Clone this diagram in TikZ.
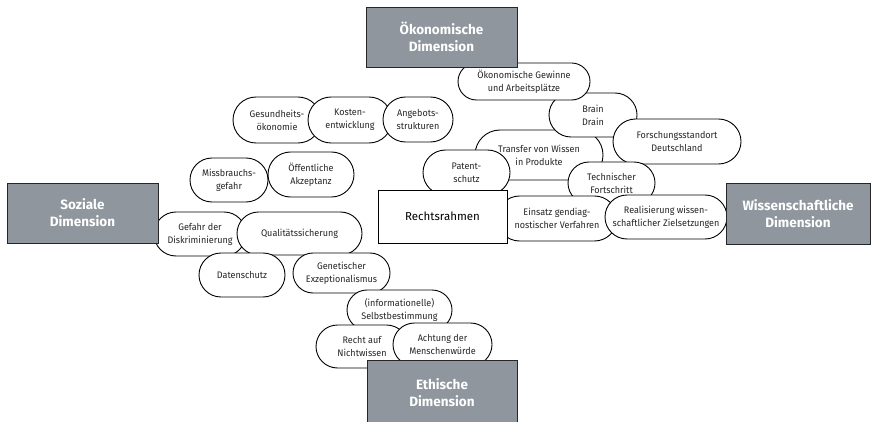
\documentclass[tikz,border=0pt]{standalone}
\usepackage{fontspec}
\setmainfont{Fira Sans}
\newfontfamily\pillfont{Fira Sans}[FakeStretch=0.95]
\usetikzlibrary{shapes.misc}
\definecolor{boxgray}{HTML}{8F969D}
\tikzset{
  pill/.style={rounded rectangle, draw=black, line width=0.9pt, fill=white, inner sep=0pt,
    align=center, font=\pillfont\fontsize{9.5}{13}\selectfont, text=black!85},
  dimbox/.style={rectangle, draw=black!85, line width=0.9pt, fill=boxgray, inner sep=0pt,
    align=center, text=white, font=\bfseries\fontsize{13.5}{17}\selectfont},
  lawbox/.style={rectangle, draw=black, line width=0.9pt, fill=white, inner sep=0pt,
    align=center, font=\fontsize{11.5}{14}\selectfont},
}
\begin{document}
\begin{tikzpicture}[x=1pt,y=-1pt]
\useasboundingbox[fill=white] (0,0) rectangle (872,422);
% upper right cluster
\node[pill, minimum width=128pt, minimum height=50pt] (transfer) at (539,155) {Transfer von Wissen\\in Produkte};
\node[pill, minimum width=88pt, minimum height=44pt] (brain) at (593,115) {Brain\\Drain};
\node[pill, minimum width=132pt, minimum height=37pt] (okgew) at (524,81.5) {Ökonomische Gewinne\\und Arbeitsplätze};
\node[pill, minimum width=128pt, minimum height=45pt] (forsch) at (677,141.5) {Forschungsstandort\\Deutschland};
\node[pill, minimum width=87pt, minimum height=42pt] (techn) at (611.5,183) {Technischer\\Fortschritt};
\node[pill, minimum width=87pt, minimum height=45pt] (patent) at (466.5,172.5) {Patent-\\schutz};
\node[pill, minimum width=120pt, minimum height=45pt] (einsatz) at (557,218.5) {Einsatz gendiag-\\nostischer Verfahren};
\node[pill, minimum width=122pt, minimum height=44pt] (realis) at (666,217) {Realisierung wissen-\\schaftlicher Zielsetzungen};
\node[lawbox, minimum width=129pt, minimum height=53pt] (recht) at (442.5,216.5) {Rechtsrahmen};
% upper left cluster
\node[pill, minimum width=88pt, minimum height=46pt] (gesund) at (277,120) {Gesundheits-\\ökonomie};
\node[pill, minimum width=84pt, minimum height=46pt] (kosten) at (350,120) {Kosten-\\entwicklung};
\node[pill, minimum width=70pt, minimum height=45pt] (angebot) at (418,119.5) {Angebots-\\strukturen};
\node[pill, minimum width=78pt, minimum height=44pt] (missbr) at (229,180) {Missbrauchs-\\gefahr};
\node[pill, minimum width=86pt, minimum height=45pt] (oeffentl) at (311,174.5) {Öffentliche\\Akzeptanz};
% lower left cluster
\node[pill, minimum width=92pt, minimum height=44pt] (gefahr) at (200,234) {Gefahr der\\Diskriminierung};
\node[pill, minimum width=125pt, minimum height=43pt] (qualit) at (299.5,233.5) {Qualitätssicherung};
\node[pill, minimum width=86pt, minimum height=44pt] (daten) at (242,275) {Datenschutz};
\node[pill, minimum width=97pt, minimum height=40pt] (genet) at (341.5,273) {Genetischer\\Exzeptionalismus};
\node[pill, minimum width=105pt, minimum height=40pt] (selbst) at (399.5,310) {(informationelle)\\Selbstbestimmung};
\node[pill, minimum width=92pt, minimum height=43pt] (nichtw) at (362,346.5) {Recht auf\\Nichtwissen};
\node[pill, minimum width=99pt, minimum height=43pt] (achtung) at (442.5,344.5) {Achtung der\\Menschenwürde};
% dimension boxes
\node[dimbox, minimum width=151pt, minimum height=60pt] (oek) at (441.5,37) {Ökonomische\\Dimension};
\node[dimbox, minimum width=151pt, minimum height=60pt] (soz) at (82.5,213) {Soziale\\Dimension};
\node[dimbox, minimum width=144pt, minimum height=61pt] (wiss) at (798,213.5) {Wissenschaftliche\\Dimension};
\node[dimbox, minimum width=150pt, minimum height=65pt] (eth) at (442,392.5) {Ethische\\Dimension};
\end{tikzpicture}
\end{document}
